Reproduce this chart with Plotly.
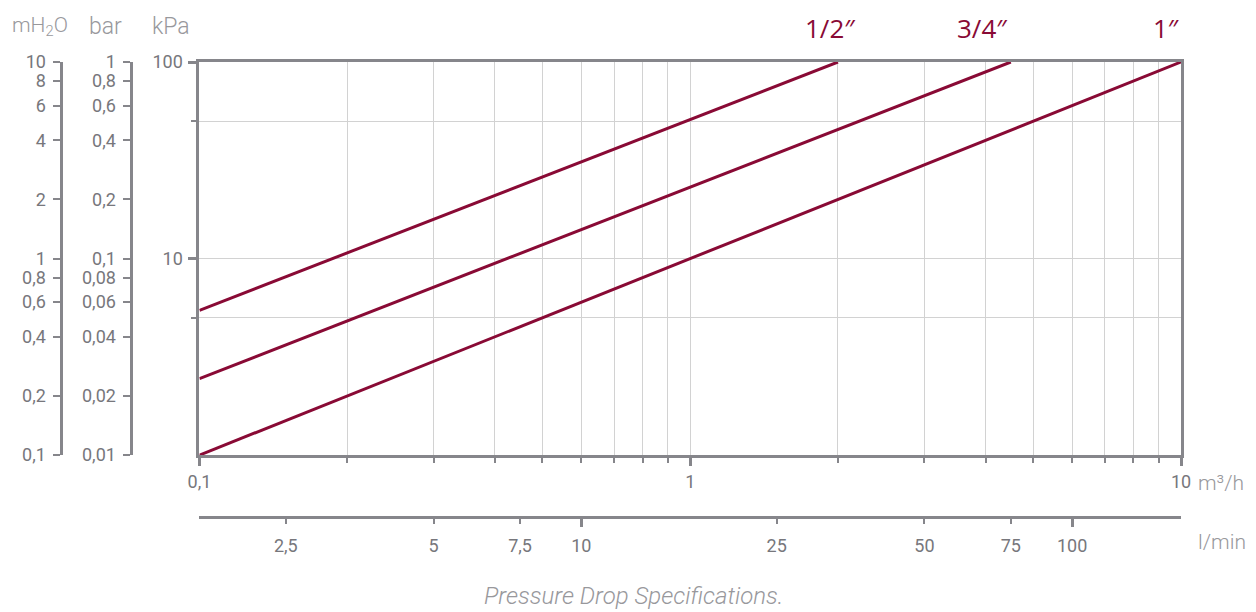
import math
import plotly.graph_objects as go

# ---- data ----
series_names = ["1/2″", "3/4″", "1″"]
flow_half = [0.1, 2.0]        # m3/h
kpa_half = [5.45, 100]        # kPa
flow_three_q = [0.1, 4.5]
kpa_three_q = [2.45, 100]
flow_one = [0.1, 10]
kpa_one = [1.0, 100]

x_major = [0.1, 1, 10]
x_major_text = ["0,1", "1", "10"]
x_minor = [0.2, 0.3, 0.4, 0.5, 0.6, 0.7, 0.8, 0.9, 2, 3, 4, 5, 6, 7, 8, 9]

lpm_ticks = [2.5, 5, 7.5, 10, 25, 50, 75, 100]
lpm_text = ["2,5", "5", "7,5", "10", "25", "50", "75", "100"]
lpm_major = [10, 100]

kpa_major = [10, 100]
kpa_major_text = ["10", "100"]
kpa_minor = [5, 50]

bar_ticks = [1, 0.8, 0.6, 0.4, 0.2, 0.1, 0.08, 0.06, 0.04, 0.02, 0.01]
bar_text = ["1", "0,8", "0,6", "0,4", "0,2", "0,1", "0,08", "0,06", "0,04", "0,02", "0,01"]
mh2o_ticks = [10, 8, 6, 4, 2, 1, 0.8, 0.6, 0.4, 0.2, 0.1]
mh2o_text = ["10", "8", "6", "4", "2", "1", "0,8", "0,6", "0,4", "0,2", "0,1"]

LINE = "#890a35"
AX = "#86868b"
TXT = "#77777c"
LIGHT = "#98989c"
GRID = "#d2d2d2"

# page body margin offset (browser default)
OFF = 8
W, H = 1256 - OFF, 612 - OFF

# layout in reference pixel coordinates
PAPER_L, PAPER_R, PAPER_T, PAPER_B = 40, 1181.5, 61.5, 517.5
PLOT_L, PLOT_B = 199.5, 455.5

ML = PAPER_L - OFF
MR = W - (PAPER_R - OFF)
MT = PAPER_T - OFF
MB = H - (PAPER_B - OFF)
PW = PAPER_R - PAPER_L
PH = PAPER_B - PAPER_T


def px(x):
    return (x - PAPER_L) / PW


def py(y):
    return (PAPER_B - y) / PH


fig = go.Figure()
for name, xs, ys in [(series_names[0], flow_half, kpa_half),
                     (series_names[1], flow_three_q, kpa_three_q),
                     (series_names[2], flow_one, kpa_one)]:
    fig.add_trace(go.Scatter(x=xs, y=ys, mode="lines", name=name,
                             line=dict(color=LINE, width=3), cliponaxis=False,
                             xaxis="x", yaxis="y", showlegend=False))

# invisible companions so secondary axes are drawn
fig.add_trace(go.Scatter(x=[f * 1000 / 60 for f in flow_one], y=kpa_one, mode="lines",
                         opacity=0, xaxis="x2", yaxis="y", showlegend=False, hoverinfo="skip"))
fig.add_trace(go.Scatter(x=flow_one, y=[k / 100 for k in kpa_one], mode="lines",
                         opacity=0, xaxis="x", yaxis="y2", showlegend=False, hoverinfo="skip"))
fig.add_trace(go.Scatter(x=flow_one, y=[k / 10 for k in kpa_one], mode="lines",
                         opacity=0, xaxis="x", yaxis="y3", showlegend=False, hoverinfo="skip"))

tickfont = dict(family="Roboto", size=18, color=TXT, weight=400)
xdom = [px(PLOT_L), 1]
ydom = [py(PLOT_B), 1]

fig.update_layout(
    width=W, height=H,
    margin=dict(l=ML, r=MR, t=MT, b=MB, autoexpand=False),
    paper_bgcolor="white", plot_bgcolor="white",
    font=dict(family="Roboto", color=TXT),
    xaxis=dict(type="log", range=[-1, 1], domain=xdom, anchor="y",
               tickmode="array", tickvals=x_major, ticktext=x_major_text,
               ticks="outside", ticklen=8, tickwidth=3, tickcolor=AX,
               showgrid=True, gridcolor=GRID, gridwidth=1,
               showline=True, linecolor=AX, linewidth=3, mirror=True,
               zeroline=False, tickfont=tickfont, ticklabelstandoff=0,
               minor=dict(tickmode="array", tickvals=x_minor, ticks="outside",
                          ticklen=5, tickwidth=2, tickcolor=AX,
                          showgrid=True, gridcolor=GRID, gridwidth=1),
               automargin=False),
    xaxis2=dict(type="log", range=[math.log10(0.1 * 1000 / 60), math.log10(10 * 1000 / 60)],
                overlaying="x", anchor="free", position=0, side="bottom",
                tickmode="array", tickvals=lpm_ticks, ticktext=lpm_text,
                ticks="outside", ticklen=5, tickwidth=2, tickcolor=AX,
                showgrid=False, showline=True, linecolor=AX, linewidth=3,
                zeroline=False, tickfont=tickfont, ticklabelstandoff=6,
                minor=dict(tickmode="array", tickvals=lpm_major, ticks="outside",
                           ticklen=8, tickwidth=3, tickcolor=AX, showgrid=False),
                automargin=False),
    yaxis=dict(type="log", range=[0, 2], domain=ydom, anchor="x",
               tickmode="array", tickvals=kpa_major, ticktext=kpa_major_text,
               ticks="outside", ticklen=8, tickwidth=3, tickcolor=AX,
               showgrid=True, gridcolor=GRID, gridwidth=1,
               showline=True, linecolor=AX, linewidth=3, mirror=True,
               zeroline=False, tickfont=tickfont, ticklabelstandoff=2,
               minor=dict(tickmode="array", tickvals=kpa_minor, ticks="outside",
                          ticklen=5, tickwidth=2, tickcolor=AX,
                          showgrid=True, gridcolor=GRID, gridwidth=1),
               automargin=False),
    yaxis2=dict(type="log", range=[-2, 0], overlaying="y", anchor="free",
                position=px(131.5), side="left",
                tickmode="array", tickvals=bar_ticks, ticktext=bar_text,
                ticks="outside", ticklen=7, tickwidth=2, tickcolor=AX,
                showgrid=False, showline=True, linecolor=AX, linewidth=3,
                zeroline=False, tickfont=tickfont, ticklabelstandoff=4,
                automargin=False),
    yaxis3=dict(type="log", range=[-1, 1], overlaying="y", anchor="free",
                position=px(61.5), side="left",
                tickmode="array", tickvals=mh2o_ticks, ticktext=mh2o_text,
                ticks="outside", ticklen=7, tickwidth=2, tickcolor=AX,
                showgrid=False, showline=True, linecolor=AX, linewidth=3,
                zeroline=False, tickfont=tickfont, ticklabelstandoff=4,
                automargin=False),
)

title_font = dict(family="Roboto", size=23, color=LIGHT, weight=300)
fig.add_annotation(text="mH<sub>2</sub>O", xref="paper", yref="paper", x=px(10), y=py(26),
                   xanchor="left", yanchor="middle", showarrow=False,
                   font=dict(family="Roboto", size=21, color=LIGHT, weight=300))
fig.add_annotation(text="bar", xref="paper", yref="paper", x=px(106), y=py(26),
                   xanchor="center", yanchor="middle", showarrow=False, font=title_font)
fig.add_annotation(text="kPa", xref="paper", yref="paper", x=px(171), y=py(26),
                   xanchor="center", yanchor="middle", showarrow=False, font=title_font)

unit_font = dict(family="Roboto", size=21, color=LIGHT, weight=300)
fig.add_annotation(text="m³/h", xref="paper", yref="paper", x=px(1197), y=py(483),
                   xanchor="left", yanchor="middle", showarrow=False, font=unit_font)
fig.add_annotation(text="l/min", xref="paper", yref="paper", x=px(1197), y=py(543),
                   xanchor="left", yanchor="middle", showarrow=False, font=unit_font)

label_font = dict(family="Open Sans", size=26, color=LINE)
for name, right_px in zip(series_names, [858, 1010, 1183]):
    fig.add_annotation(text=name, xref="paper", yref="paper", x=px(right_px), y=py(27),
                       xanchor="right", yanchor="middle", showarrow=False, font=label_font)

fig.add_annotation(text="<i>Pressure Drop Specifications.</i>", xref="paper", yref="paper",
                   x=px(634), y=py(597), xanchor="center", yanchor="middle", showarrow=False,
                   font=dict(family="Roboto", size=24, color=LIGHT, weight=300))

fig.write_html("out.html")
